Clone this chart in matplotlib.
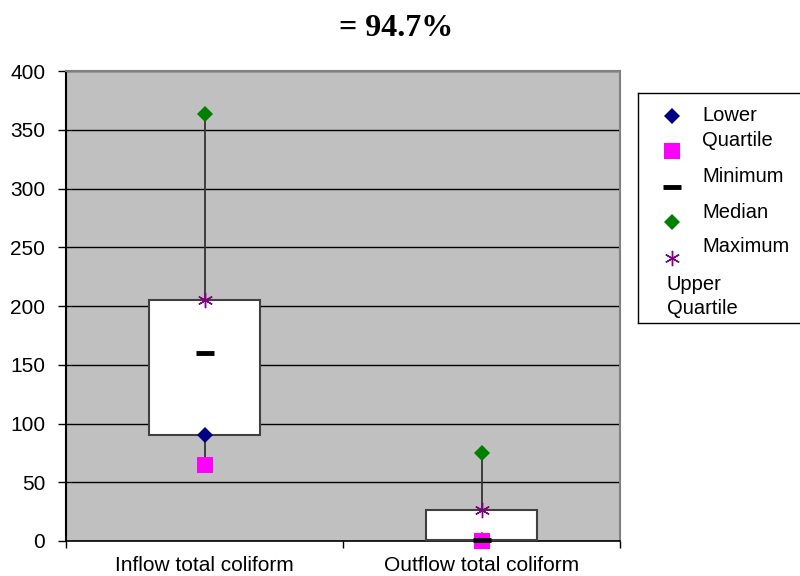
import matplotlib
matplotlib.use('Agg')
import matplotlib.pyplot as plt
import numpy as np

categories = ['Inflow total coliform', 'Outflow total coliform']
lower_quartile = [90, 1]
minimum = [65, 0]
median = [160, 1]
maximum = [363, 75]
upper_quartile = [205, 26]

series_names = ['Lower Quartile', 'Minimum', 'Median', 'Maximum', 'Upper Quartile']
legend_lines = ['Lower', 'Quartile', 'Minimum', 'Median', 'Maximum', 'Upper', 'Quartile']
title_text = '= 94.7%'

plt.rcParams['font.family'] = ['Liberation Sans', 'DejaVu Sans']

fig = plt.figure(figsize=(8, 5.76), dpi=100)
ax = fig.add_axes([66 / 800, 35 / 576, 554 / 800, 470 / 576])
ax.set_facecolor('#C0C0C0')

x = np.arange(len(categories))

# high-low line spanning every series at each category
all_vals = np.array([lower_quartile, minimum, median, maximum, upper_quartile])
ax.vlines(x, all_vals.min(axis=0), all_vals.max(axis=0), color='#333333', lw=1.3, zorder=2)

# up bars between first and last series
box_w = 0.4
for xi, lo, hi in zip(x, lower_quartile, upper_quartile):
    ax.add_patch(plt.Rectangle((xi - box_w / 2, lo), box_w, hi - lo,
                               facecolor='white', edgecolor='#404040', lw=1.5, zorder=3))

styles = [
    dict(marker='D', color='#000080', ms=8, mew=0),
    dict(marker='s', color='#FF00FF', ms=11, mew=0),
    dict(marker='_', color='black', ms=13, mew=3.5),
    dict(marker='D', color='#008000', ms=8, mew=0),
    dict(marker=(6, 2, 0), color='#800080', ms=11, mew=1.0),
]
data = [lower_quartile, minimum, median, maximum, upper_quartile]
for vals, st in zip(data, styles):
    ax.plot(x, vals, linestyle='none', zorder=4, clip_on=False, **st)

ax.set_xlim(-0.5, 1.5)
ax.set_ylim(0, 400)
ax.set_yticks(np.arange(0, 401, 50))
ax.yaxis.grid(True, color='black', lw=1)
ax.set_axisbelow(True)
ax.tick_params(axis='y', labelsize=15, length=6, direction='out', width=1, pad=9)

ax.set_xticks(x)
ax.set_xticklabels(categories, fontsize=15)
ax.set_xticks([-0.5, 0.5, 1.5], minor=True)
ax.tick_params(axis='x', which='major', length=0, pad=11)
ax.tick_params(axis='x', which='minor', length=5, width=1, direction='out')

for side in ['top', 'right']:
    ax.spines[side].set_color('#808080')
    ax.spines[side].set_linewidth(1.5)
ax.spines['left'].set_color('black')
ax.spines['left'].set_linewidth(1.5)
ax.spines['bottom'].set_color('black')
ax.spines['bottom'].set_linewidth(1.2)

fig.text(396 / 800, 1 - 28 / 576, title_text, ha='center', va='center',
         fontsize=23, fontweight='bold', family=['Liberation Serif', 'DejaVu Serif'])

# legend box drawn in its own pixel-unit axes
lg = fig.add_axes([638 / 800, 253 / 576, 170 / 800, 230 / 576])
lg.set_xlim(0, 170)
lg.set_ylim(230, 0)
lg.set_xticks([])
lg.set_yticks([])
for sp in lg.spines.values():
    sp.set_color('black')
    sp.set_linewidth(1)
for i, st in enumerate(styles):
    lg.plot([34], [23 + i * 35.5], linestyle='none', **st)
text_y = [23, 48, 84, 119, 154, 191, 215]
text_x = [64, 64, 64, 64, 64, 29, 29]
for tx, ty, t in zip(text_x, text_y, legend_lines):
    lg.text(tx, ty, t, fontsize=14.5, va='center', ha='left')

fig.savefig('out.png', dpi=100)
